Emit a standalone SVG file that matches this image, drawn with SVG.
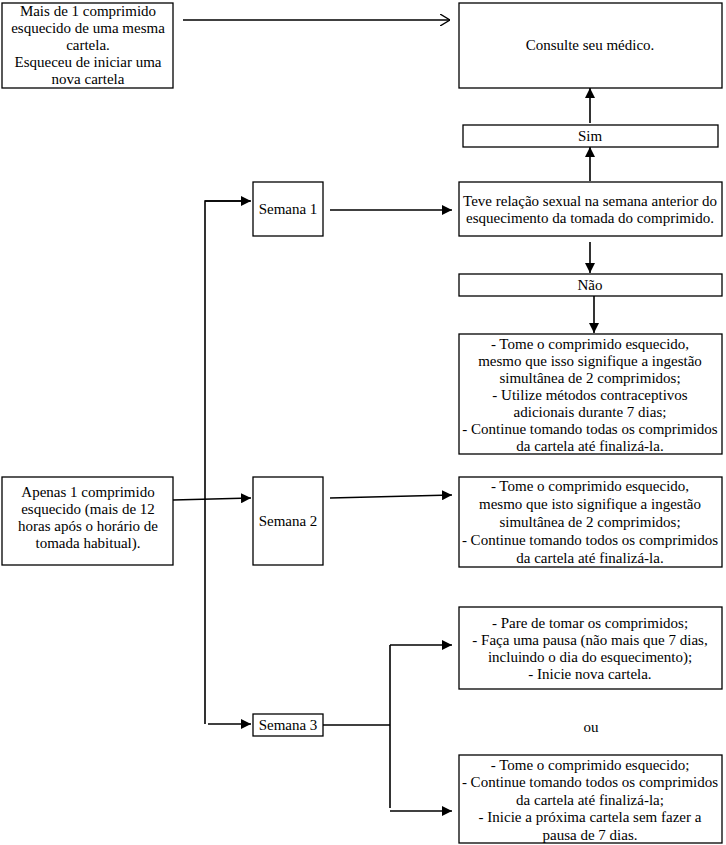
<svg xmlns="http://www.w3.org/2000/svg" width="726" height="845" viewBox="0 0 726 845">
<style>
.box{fill:#fff;stroke:#000;stroke-width:1.3}
.t{font-family:"Liberation Serif","Times New Roman",serif;font-size:15px;fill:#000;text-anchor:middle}
.c{fill:none;stroke:#000;stroke-width:1.6}
</style>
<defs>
<marker id="ah" viewBox="0 0 10 10" refX="10" refY="5" markerWidth="10" markerHeight="10" markerUnits="userSpaceOnUse" orient="auto">
<path d="M0,0 L10,5 L0,10 Z" fill="#000"/>
</marker>
<marker id="oh" viewBox="0 0 10 12" refX="10" refY="6" markerWidth="10" markerHeight="12" markerUnits="userSpaceOnUse" orient="auto">
<path d="M0,0 L10,6 L0,12" fill="none" stroke="#000" stroke-width="1.4"/>
</marker>
</defs>
<rect width="726" height="845" fill="#fff"/>
<g id="connectors">
<line class="c" x1="183" y1="20" x2="450" y2="20" marker-end="url(#oh)"/>
<line class="c" x1="590" y1="123" x2="590" y2="88" marker-end="url(#ah)"/>
<line class="c" x1="590" y1="181" x2="590" y2="147" marker-end="url(#ah)"/>
<line class="c" x1="330" y1="210" x2="452" y2="210" marker-end="url(#ah)"/>
<line class="c" x1="590" y1="242" x2="590" y2="273" marker-end="url(#ah)"/>
<line class="c" x1="594" y1="296" x2="594" y2="333" marker-end="url(#ah)"/>
<line class="c" x1="173" y1="500" x2="251" y2="498" marker-end="url(#ah)"/>
<line class="c" x1="330" y1="498" x2="452" y2="495" marker-end="url(#ah)"/>
<polyline class="c" points="250,201 205,201 205,724"/>
<line class="c" x1="205" y1="201" x2="251" y2="201" marker-end="url(#ah)"/>
<line class="c" x1="208" y1="724" x2="251" y2="724" marker-end="url(#ah)"/>
<polyline class="c" points="323,725 390,725"/>
<line class="c" x1="390" y1="645" x2="390" y2="808"/>
<line class="c" x1="390" y1="645" x2="452" y2="645" marker-end="url(#ah)"/>
<line class="c" x1="390" y1="811" x2="452" y2="811" marker-end="url(#ah)"/>
</g>
<g id="n-mais">
<rect class="box" x="2" y="3" width="171" height="85"/>
<text class="t" x="88" y="16">Mais de 1 comprimido</text>
<text class="t" x="88" y="33">esquecido de uma mesma</text>
<text class="t" x="88" y="50">cartela.</text>
<text class="t" x="88" y="67">Esqueceu de iniciar uma</text>
<text class="t" x="88" y="84">nova cartela</text>
</g>
<g id="n-consulte">
<rect class="box" x="459" y="3" width="263" height="85"/>
<text class="t" x="590" y="50">Consulte seu médico.</text>
</g>
<g id="n-sim">
<rect class="box" x="463" y="125" width="255" height="22"/>
<text class="t" x="590" y="141">Sim</text>
</g>
<g id="n-teve">
<rect class="box" x="459" y="182" width="263" height="54"/>
<text class="t" x="590" y="206">Teve relação sexual na semana anterior do</text>
<text class="t" x="590" y="223">esquecimento da tomada do comprimido.</text>
</g>
<g id="n-semana1">
<rect class="box" x="253" y="182" width="70" height="54"/>
<text class="t" x="288" y="214">Semana 1</text>
</g>
<g id="n-nao">
<rect class="box" x="459" y="274" width="263" height="22"/>
<text class="t" x="590" y="290">Não</text>
</g>
<g id="n-sem1acao">
<rect class="box" x="459" y="334" width="263" height="120"/>
<text class="t" x="590" y="349">- Tome o comprimido esquecido,</text>
<text class="t" x="590" y="366">mesmo que isso signifique a ingestão</text>
<text class="t" x="590" y="383">simultânea de 2 comprimidos;</text>
<text class="t" x="590" y="400">- Utilize métodos contraceptivos</text>
<text class="t" x="590" y="417">adicionais durante 7 dias;</text>
<text class="t" x="590" y="434">- Continue tomando todas os comprimidos</text>
<text class="t" x="590" y="451">da cartela até finalizá-la.</text>
</g>
<g id="n-apenas">
<rect class="box" x="2" y="477" width="171" height="88"/>
<text class="t" x="88" y="497">Apenas 1 comprimido</text>
<text class="t" x="88" y="514">esquecido (mais de 12</text>
<text class="t" x="88" y="531">horas após o horário de</text>
<text class="t" x="88" y="548">tomada habitual).</text>
</g>
<g id="n-semana2">
<rect class="box" x="253" y="477" width="70" height="88"/>
<text class="t" x="288" y="526">Semana 2</text>
</g>
<g id="n-sem2acao">
<rect class="box" x="459" y="477" width="263" height="90"/>
<text class="t" x="590" y="491">- Tome o comprimido esquecido,</text>
<text class="t" x="590" y="509">mesmo que isto signifique a ingestão</text>
<text class="t" x="590" y="527">simultânea de 2 comprimidos;</text>
<text class="t" x="590" y="545">- Continue tomando todos os comprimidos</text>
<text class="t" x="590" y="563">da cartela até finalizá-la.</text>
</g>
<g id="n-semana3">
<rect class="box" x="253" y="714" width="70" height="22"/>
<text class="t" x="288" y="730">Semana 3</text>
</g>
<g id="n-sem3a">
<rect class="box" x="459" y="607" width="263" height="82"/>
<text class="t" x="590" y="628">- Pare de tomar os comprimidos;</text>
<text class="t" x="590" y="645">- Faça uma pausa (não mais que 7 dias,</text>
<text class="t" x="590" y="662">incluindo o dia do esquecimento);</text>
<text class="t" x="590" y="679">- Inicie nova cartela.</text>
</g>
<g id="n-ou">
<text class="t" x="591" y="732">ou</text>
</g>
<g id="n-sem3b">
<rect class="box" x="459" y="755" width="263" height="88"/>
<text class="t" x="590" y="770">- Tome o comprimido esquecido;</text>
<text class="t" x="590" y="787">- Continue tomando todos os comprimidos</text>
<text class="t" x="590" y="805">da cartela até finalizá-la;</text>
<text class="t" x="590" y="822">- Inicie a próxima cartela sem fazer a</text>
<text class="t" x="590" y="840">pausa de 7 dias.</text>
</g>
</svg>
